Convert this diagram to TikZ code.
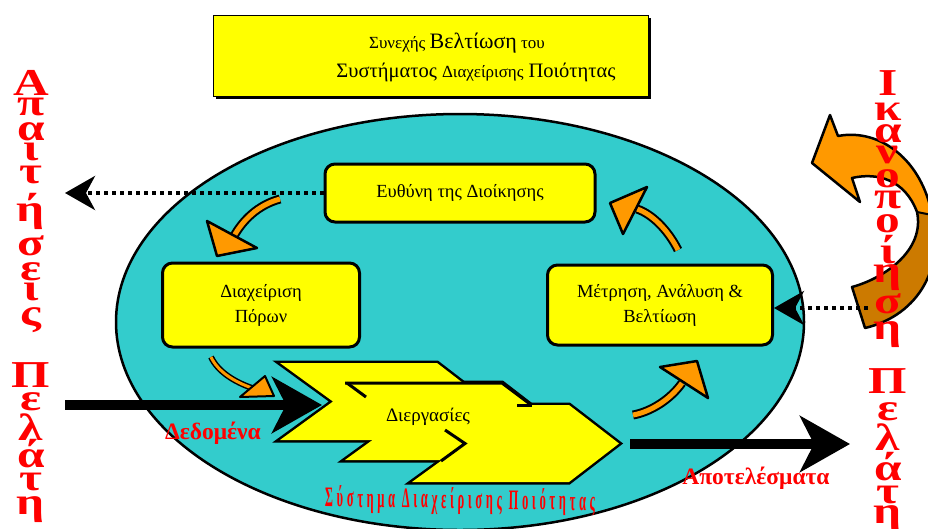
\documentclass[tikz,border=0pt]{standalone}
\usepackage{fontspec}
\setmainfont{Liberation Serif}
\usetikzlibrary{arrows.meta,shadows}

\definecolor{seacyan}{HTML}{33CCCC}
\definecolor{boxyellow}{HTML}{FFFF00}
\definecolor{arroworange}{HTML}{FF9900}
\definecolor{arrowdark}{HTML}{CC7A00}
\definecolor{textred}{HTML}{FF0000}

\tikzset{
  stage/.style={draw, line width=3pt, rounded corners=10pt, fill=boxyellow,
    align=center, font=\fontsize{18.5}{25}\selectfont},
  dotarrow/.style={line width=4pt, dash pattern=on 4pt off 4pt,
    -{Stealth[length=30pt,width=34pt,inset=9pt]}},
  flowarrow/.style={line width=10pt, -{Stealth[length=50pt,width=56pt,inset=14pt]}},
  cyclearrow/.style={double=arroworange, double distance=5pt, line width=2pt},
  cyclehead/.style={fill=arroworange, draw, line width=2.5pt, line join=round},
  vletter/.style={text=textred, font=\fontsize{38}{38}\selectfont\bfseries,
    anchor=base, inner sep=0pt},
  redlabel/.style={text=textred, font=\fontsize{23.5}{24}\selectfont\bfseries},
}

\begin{document}
\begin{tikzpicture}[x=1pt,y=-1pt]
  \useasboundingbox (0,0) rectangle (928,528);
  \clip (0,0) rectangle (928,528);

  % system ellipse
  \draw[line width=2.5pt, fill=seacyan] (460,322) ellipse [x radius=344, y radius=208];

  % title
  \node[draw, fill=boxyellow, minimum width=435, minimum height=81,
    drop shadow={opacity=1, fill=black, shadow xshift=3pt, shadow yshift=-3pt}]
    (title) at (430.5,55.5) {};
  \node[anchor=base] (title1) at (457,48)
    {\fontsize{17}{20}\selectfont Συνεχής {\fontsize{22}{24}\selectfont Βελτίωση} του};
  \node[anchor=base] (title2) at (476,77)
    {\fontsize{20.5}{22}\selectfont Συστήματος {\fontsize{17}{20}\selectfont Διαχείρισης} Ποιότητας};

  % stages
  \node[stage, minimum width=270, minimum height=58] (ruling) at (460,193) {Ευθύνη της Διοίκησης};
  \node[stage, minimum width=197, minimum height=84] (resources) at (261,305) {Διαχείριση\\Πόρων};
  \node[stage, minimum width=225, minimum height=80] (measure) at (660,305) {Μέτρηση, Ανάλυση \&\\Βελτίωση};

  % processes
  \foreach \dx/\dy in {280/363, 345/383, 412/405}
    \draw[line width=5pt, line join=miter] (\dx,\dy) -- ++(157,0) -- ++(50,38.5) -- ++(-50,38.5)
      -- ++(-157,0) -- ++(53,-38.5) -- cycle;
  \foreach \dx/\dy in {280/363, 345/383, 412/405}
    \fill[boxyellow] (\dx,\dy) -- ++(157,0) -- ++(50,38.5) -- ++(-50,38.5)
      -- ++(-157,0) -- ++(53,-38.5) -- cycle;
  \draw[line width=3pt] (347,383) -- (366,397);
  \draw[line width=3pt] (345,383) -- (502,383) -- (530,404);
  \draw[line width=3pt] (517,405) -- (532,405);
  \draw[line width=3pt] (445,430) -- (465,443.5) -- (441,461);
  \node[font=\fontsize{19}{20}\selectfont] (proc) at (428,417) {Διεργασίες};

  % input and output
  \coordinate (data start) at (65,405);
  \coordinate (data end) at (322,405);
  \coordinate (result start) at (630,444);
  \coordinate (result end) at (850,444);
  \draw[flowarrow] (data start) -- (data end);
  \draw[flowarrow] (result start) -- (result end);
  \node[redlabel] (data) at (213,433) {Δεδομένα};
  \node[redlabel] (result) at (756,478) {Αποτελέσματα};

  % cycle arrows
  \draw[cyclearrow] (280,199) .. controls (258,205) and (243,220) .. (234,236);
  \draw[cyclehead] (207,221) -- (217,256) -- (257,248) -- cycle;
  \draw[cyclearrow] (678,250) .. controls (668,230) and (652,214) .. (637,209);
  \draw[cyclehead] (647,187) -- (610,203) -- (623,234) -- cycle;
  \draw[cyclearrow] (633,415) .. controls (650,412) and (670,400) .. (682,383);
  \draw[cyclehead] (660,367) -- (697,361) -- (708,398) -- cycle;
  \draw[cyclearrow, double distance=3pt, line width=1.5pt] (211,357) .. controls (218,372) and (235,382) .. (252,388);
  \draw[cyclehead, line width=2pt] (265,376) -- (240,397) -- (274,396) -- cycle;

  % satisfaction arrow
  \fill[arrowdark] (812,163) -- (830,115) -- (838,136)
    .. controls (880,128) and (922,160) .. (932,215)
    .. controls (945,265) and (920,315) .. (865,328)
    -- (852,287)
    .. controls (885,278) and (925,250) .. (917,212)
    .. controls (905,180) and (878,172) .. (852,178)
    -- (860,202) -- cycle;
  \fill[arroworange] (812,163) -- (830,115) -- (838,136)
    .. controls (880,128) and (922,160) .. (932,215)
    -- (917,212)
    .. controls (905,180) and (878,172) .. (852,178)
    -- (860,202) -- cycle;
  \draw[line width=2.5pt, line join=round] (812,163) -- (830,115) -- (838,136)
    .. controls (880,128) and (922,160) .. (932,215)
    .. controls (945,265) and (920,315) .. (865,328)
    -- (852,287)
    .. controls (885,278) and (925,250) .. (917,212)
    .. controls (905,180) and (878,172) .. (852,178)
    -- (860,202) -- cycle;
  \draw[line width=2pt] (917,212) -- (932,215);

  % customer side
  \coordinate (need tip) at (65,193);
  \coordinate (sat tail) at (868,308);
  \draw[dotarrow] (ruling.west) -- (need tip);
  \draw[dotarrow] (sat tail) -- (measure.east |- sat tail);

  \foreach \ch/\yy [count=\i] in {Α/95,π/115,α/140,ι/160,τ/183,ή/221,σ/255,ε/280,ι/300,ς/325,
      Π/387,ε/410,λ/440,ά/467,τ/490,η/514}
    \node[vletter] (need\i) at (31,\yy) {\scalebox{1.3}[1]{\ch}};
  \foreach \ch/\yy [count=\i] in {Ι/95,κ/120,α/142,ν/163,ο/187,π/208,ο/232,ί/263,η/282,σ/313,η/339,
      Π/393,ε/420,λ/450,ά/480,τ/503,η/523}
    \node[vletter] (sat\i) at (888,\yy) {\scalebox{1.3}[1]{\ch}};

  \node[rotate=-0.8, text=textred] (system) at (460,501)
    {\resizebox{270pt}{21pt}{\bfseries\addfontfeatures{LetterSpace=30}Σύστημα Διαχείρισης Ποιότητας}};
\end{tikzpicture}
\end{document}
